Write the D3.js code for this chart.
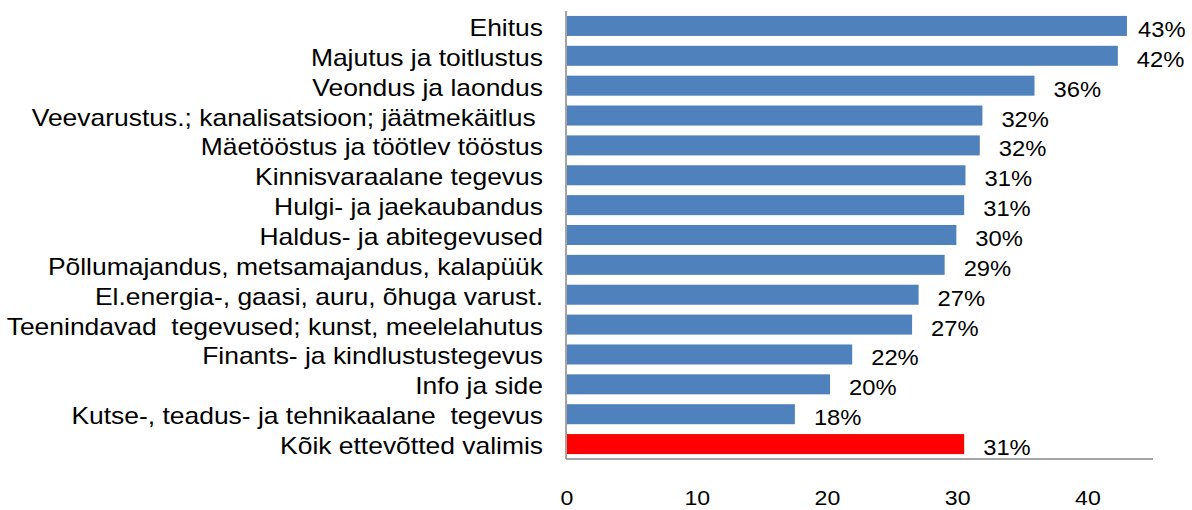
<!DOCTYPE html>
<html>
<head>
<meta charset="utf-8">
<script src="https://cdn.jsdelivr.net/npm/d3@7"></script>
<style>
html,body{margin:0;padding:0;background:#fff;}
text{font-family:"Liberation Sans",Arial,sans-serif;fill:#000;}
</style>
</head>
<body>
<svg id="chart" width="1192" height="510"></svg>
<script>
const categories = [
  "Ehitus",
  "Majutus ja toitlustus",
  "Veondus ja laondus",
  "Veevarustus.; kanalisatsioon; jäätmekäitlus ",
  "Mäetööstus ja töötlev tööstus",
  "Kinnisvaraalane tegevus",
  "Hulgi- ja jaekaubandus",
  "Haldus- ja abitegevused",
  "Põllumajandus, metsamajandus, kalapüük",
  "El.energia-, gaasi, auru, õhuga varust.",
  "Teenindavad  tegevused; kunst, meelelahutus",
  "Finants- ja kindlustustegevus",
  "Info ja side",
  "Kutse-, teadus- ja tehnikaalane  tegevus",
  "Kõik ettevõtted valimis"
];
const values = [43.0, 42.3, 35.9, 31.9, 31.7, 30.6, 30.5, 29.9, 29.0, 27.0, 26.5, 21.9, 20.2, 17.5, 30.5];
const valueLabels = ["43%","42%","36%","32%","32%","31%","31%","30%","29%","27%","27%","22%","20%","18%","31%"];
const highlight = ["Kõik ettevõtted valimis"];
const xTicks = [0, 10, 20, 30, 40];

const SX = 1.15; // horizontal stretch of the original picture's text

const svg = d3.select("#chart");
const x = d3.scaleLinear().domain([0, 45]).range([567, 1153]);
const y = d3.scaleBand().domain(categories).range([11, 459]).paddingInner(0.33).paddingOuter(0.165);

// bars
svg.append("g").selectAll("rect").data(categories).join("rect")
  .attr("x", x(0))
  .attr("y", d => y(d))
  .attr("width", (d, i) => x(values[i]) - x(0))
  .attr("height", y.bandwidth())
  .attr("fill", d => highlight.includes(d) ? "#FF0000" : "#4F81BD");

// axes lines
svg.append("line").attr("x1", 566).attr("x2", 566).attr("y1", 11).attr("y2", 459)
  .attr("stroke", "#868686").attr("stroke-width", 1.5);
svg.append("line").attr("x1", 566).attr("x2", x(45)).attr("y1", 459).attr("y2", 459)
  .attr("stroke", "#868686").attr("stroke-width", 1.5);

// category labels
svg.append("g").selectAll("text").data(categories).join("text")
  .attr("transform", d => `translate(543,${y(d) + y.bandwidth() / 2 + 10}) scale(${SX},1)`)
  .attr("text-anchor", "end")
  .attr("font-size", "23px")
  .attr("xml:space", "preserve")
  .style("white-space", "pre")
  .text(d => d);

// value labels
svg.append("g").selectAll("text").data(categories).join("text")
  .attr("transform", (d, i) => `translate(${Math.min(x(values[i]) + 19, 1138)},${y(d) + y.bandwidth() / 2 + 11}) scale(1.08,1)`)
  .attr("font-size", "22px")
  .text((d, i) => valueLabels[i]);

// x tick labels
svg.append("g").selectAll("text").data(xTicks).join("text")
  .attr("transform", d => `translate(${x(d)},505) scale(1.1,1)`)
  .attr("text-anchor", "middle")
  .attr("font-size", "21px")
  .text(d => d);
</script>
</body>
</html>
